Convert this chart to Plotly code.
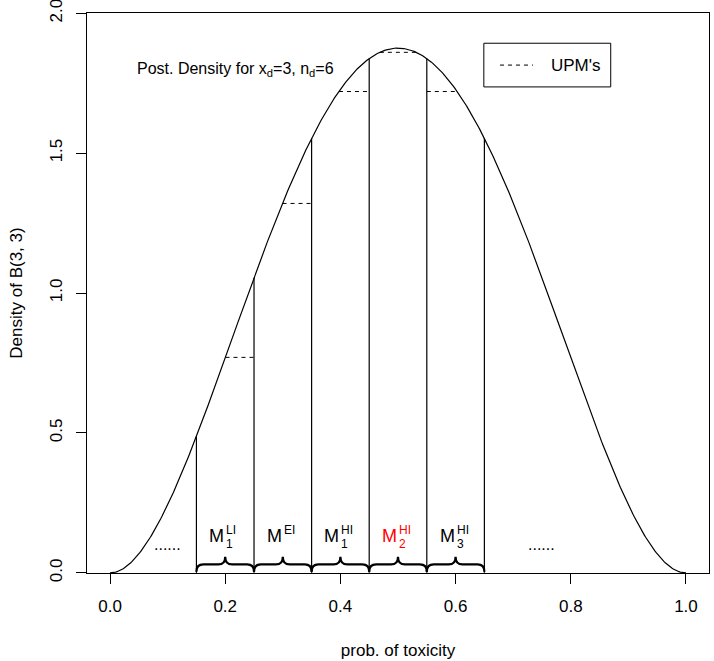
import math

import numpy as np
import plotly.graph_objects as go

# Beta(3, 3) posterior (x_d = 3, n_d = 6)
ALPHA = 3
BETA = 3

# interval boundaries of the models and the UPM (mean density) in each one
breaks = [0.15, 0.25, 0.35, 0.45, 0.55, 0.65]
upm_values = [0.77, 1.32, 1.72, 1.86, 1.72]

# labels under the curve: (base, subscript, superscript, colour)
model_labels = [
    ("M", "1", "LI", "black"),
    ("M", "", "EI", "black"),
    ("M", "1", "HI", "black"),
    ("M", "2", "HI", "red"),
    ("M", "3", "HI", "black"),
]

dots_x = [0.1, 0.75]
dots_y = 0.1

x_ticks = [0.0, 0.2, 0.4, 0.6, 0.8, 1.0]
y_ticks = [0.0, 0.5, 1.0, 1.5, 2.0]

FONT = "Liberation Sans, Arial, sans-serif"


def beta_pdf(x):
    const = math.gamma(ALPHA + BETA) / (math.gamma(ALPHA) * math.gamma(BETA))
    return const * x ** (ALPHA - 1) * (1 - x) ** (BETA - 1)


def brace_path(a, b, y_base=0.004, y_bar=0.03, y_tip=0.058, d=0.012):
    m = (a + b) / 2
    return (
        f"M {a},{y_base} Q {a},{y_bar} {a + d},{y_bar} "
        f"L {m - d},{y_bar} Q {m},{y_bar} {m},{y_tip} "
        f"Q {m},{y_bar} {m + d},{y_bar} "
        f"L {b - d},{y_bar} Q {b},{y_bar} {b},{y_base}"
    )


def main():
    xs = np.linspace(0, 1, 501)
    fig = go.Figure()

    fig.add_trace(go.Scatter(
        x=xs, y=beta_pdf(xs), mode="lines",
        line=dict(color="black", width=1.2), showlegend=False, hoverinfo="skip",
    ))

    # vertical segments up to the curve
    for xb in breaks:
        fig.add_trace(go.Scatter(
            x=[xb, xb], y=[0, beta_pdf(xb)], mode="lines",
            line=dict(color="black", width=1.2), showlegend=False, hoverinfo="skip",
        ))

    # dashed UPM lines, only where they sit under the curve
    for i, upm in enumerate(upm_values):
        a, b = breaks[i], breaks[i + 1]
        grid = np.linspace(a, b, 401)
        inside = grid[beta_pdf(grid) >= upm]
        if len(inside) == 0:
            continue
        fig.add_trace(go.Scatter(
            x=[inside.min(), inside.max()], y=[upm, upm], mode="lines",
            line=dict(color="black", width=1, dash="4px,4px"),
            showlegend=False, hoverinfo="skip",
        ))

    # braces under each interval
    for i in range(len(breaks) - 1):
        fig.add_shape(
            type="path", path=brace_path(breaks[i], breaks[i + 1]),
            xref="x", yref="y", line=dict(color="black", width=2.2),
        )

    # M labels with stacked sub / superscripts
    for i, (base, sub, sup, col) in enumerate(model_labels):
        mid = (breaks[i] + breaks[i + 1]) / 2
        fig.add_annotation(x=mid, y=0.13, text=base, showarrow=False,
                           xanchor="right", yanchor="middle", xshift=1,
                           font=dict(size=18, color=col, family=FONT))
        fig.add_annotation(x=mid, y=0.13, text=sup, showarrow=False,
                           xanchor="left", yanchor="middle", yshift=6, xshift=-1,
                           font=dict(size=12, color=col, family=FONT))
        if sub:
            fig.add_annotation(x=mid, y=0.13, text=sub, showarrow=False,
                               xanchor="left", yanchor="middle", yshift=-8, xshift=-1,
                               font=dict(size=12, color=col, family=FONT))

    for xd in dots_x:
        fig.add_annotation(x=xd, y=dots_y, text="......", showarrow=False,
                           font=dict(size=16, color="black", family=FONT))

    fig.add_annotation(
        x=0.043, y=1.80, xanchor="left", yanchor="middle", showarrow=False,
        text="Post. Density for x<sub>d</sub>=3, n<sub>d</sub>=6",
        font=dict(size=16, color="black", family=FONT),
    )

    # legend box (R style), top right
    fig.add_shape(type="rect", xref="paper", yref="paper",
                  x0=0.638, x1=0.842, y0=0.868, y1=0.946,
                  line=dict(color="black", width=1), fillcolor="white")
    fig.add_shape(type="line", xref="paper", yref="paper",
                  x0=0.664, x1=0.717, y0=0.907, y1=0.907,
                  line=dict(color="black", width=1, dash="4px,4px"))
    fig.add_annotation(x=0.743, y=0.907, xref="paper", yref="paper",
                       text="UPM's", showarrow=False, xanchor="left",
                       yanchor="middle", font=dict(size=17, family=FONT))

    fig.update_layout(
        width=714, height=661,
        margin=dict(l=87, r=5, t=13, b=88),
        paper_bgcolor="white", plot_bgcolor="white",
        font=dict(family=FONT, size=17, color="black"),
        showlegend=False,
        xaxis=dict(
            range=[-0.04, 1.04], tickvals=x_ticks,
            ticktext=[f"{v:.1f}" for v in x_ticks],
            showgrid=False, zeroline=False, showline=True, linecolor="black",
            linewidth=1, mirror=True, ticks="outside", ticklen=10,
            tickcolor="black", ticklabelstandoff=8, automargin=False,
            title=dict(text="prob. of toxicity", standoff=28, font=dict(size=17)),
        ),
        yaxis=dict(
            range=[-0.0005, 2.0005], tickvals=y_ticks,
            ticktext=[f"{v:.1f}" for v in y_ticks], tickangle=-90,
            showgrid=False, zeroline=False, showline=True, linecolor="black",
            linewidth=1, mirror=True, ticks="outside", ticklen=10,
            tickcolor="black", ticklabelstandoff=7, automargin=False,
            ticklabeloverflow="allow",
            title=dict(text="Density of B(3, 3)", standoff=20, font=dict(size=17)),
        ),
    )

    # drop the default 8px page margin so the figure fills the window
    fig.write_html("out.html", config={"displayModeBar": False},
                   post_script="document.body.style.margin = '0';")


if __name__ == "__main__":
    main()
